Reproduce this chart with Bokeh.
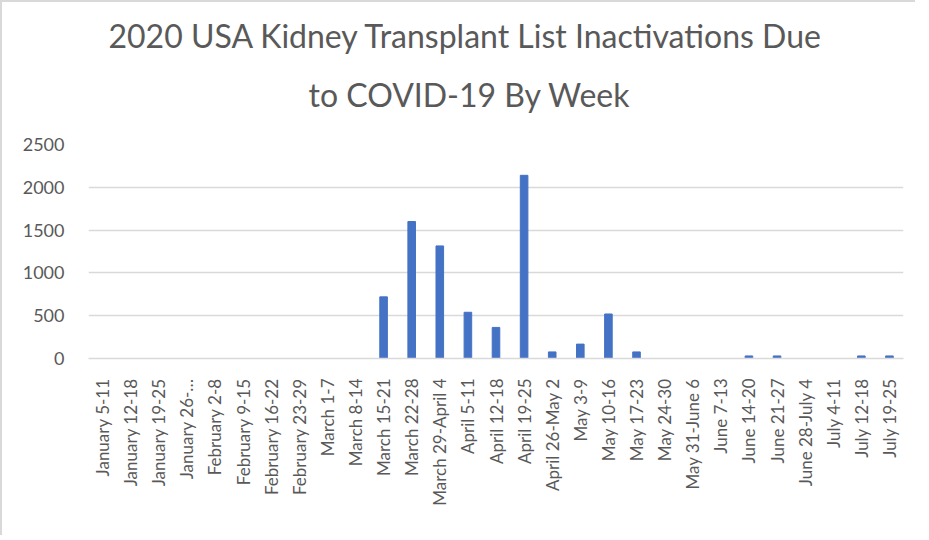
from bokeh.plotting import figure
from bokeh.models import ColumnDataSource, Range1d, Title, FixedTicker
from bokeh.embed import file_html
from bokeh.resources import INLINE
import math

weeks = [
    "January 5-11", "January 12-18", "January 19-25", "January 26-\u2026",
    "February 2-8", "February 9-15", "February 16-22", "February 23-29",
    "March 1-7", "March 8-14", "March 15-21", "March 22-28",
    "March 29-April 4", "April 5-11", "April 12-18", "April 19-25",
    "April 26-May 2", "May 3-9", "May 10-16", "May 17-23", "May 24-30",
    "May 31-June 6", "June 7-13", "June 14-20", "June 21-27",
    "June 28-July 4", "July 4-11", "July 12-18", "July 19-25",
]
inactivations = [
    0, 0, 0, 0,
    0, 0, 0, 0,
    0, 0, 720, 1600,
    1315, 540, 363, 2140,
    77, 168, 520, 77, 0,
    0, 0, 30, 30,
    0, 0, 30, 30,
]
y_ticks = [0, 500, 1000, 1500, 2000, 2500]
title_lines = ["2020 USA Kidney Transplant List Inactivations Due", "to COVID-19 By Week"]

source = ColumnDataSource(data=dict(week=weeks, value=inactivations))

TEXT = "#595959"

p = figure(
    x_range=weeks,
    y_range=Range1d(0, 2500),
    frame_width=815,
    frame_height=214,
    min_border_left=86,
    min_border_right=12,
    min_border_top=142,
    min_border_bottom=177,
    output_backend="svg",
    toolbar_location=None,
    tools="",
)
p.styles = {"border-top": "2px solid #d9d9d9", "border-left": "2px solid #d9d9d9"}

p.vbar(x="week", top="value", width=0.27, source=source,
       fill_color="#4472C4", line_color="#4472C4")

p.title = None
p.add_layout(Title(text=title_lines[1], align="left", offset=220,
                   text_font="Lato", text_font_size="32px", text_font_style="normal",
                   text_color=TEXT, standoff=61, text_line_height=0.8), "above")
p.add_layout(Title(text=title_lines[0], align="left", offset=20,
                   text_font="Lato", text_font_size="32px", text_font_style="normal",
                   text_color=TEXT, standoff=-24), "above")

p.outline_line_color = None
p.xgrid.grid_line_color = None
p.ygrid.grid_line_color = "#d9d9d9"
p.ygrid.grid_line_width = 1.5

p.yaxis.ticker = FixedTicker(ticks=y_ticks)
p.yaxis.axis_line_color = None
p.yaxis.major_tick_line_color = None
p.yaxis.minor_tick_line_color = None
p.yaxis.major_label_text_font = "Lato"
p.yaxis.major_label_text_font_size = "18px"
p.yaxis.major_label_text_color = TEXT
p.yaxis.major_label_standoff = 18

p.xaxis.axis_line_color = "#d9d9d9"
p.xaxis.axis_line_width = 1.5
p.xaxis.major_tick_line_color = None
p.xaxis.minor_tick_line_color = None
p.xaxis.major_label_orientation = math.pi / 2
p.xaxis.major_label_text_font = "Lato"
p.xaxis.major_label_text_font_size = "17px"
p.xaxis.major_label_text_color = TEXT
p.xaxis.major_label_standoff = 14
p.x_range.range_padding = 0

open("out.html", "w").write(file_html(p, INLINE))
